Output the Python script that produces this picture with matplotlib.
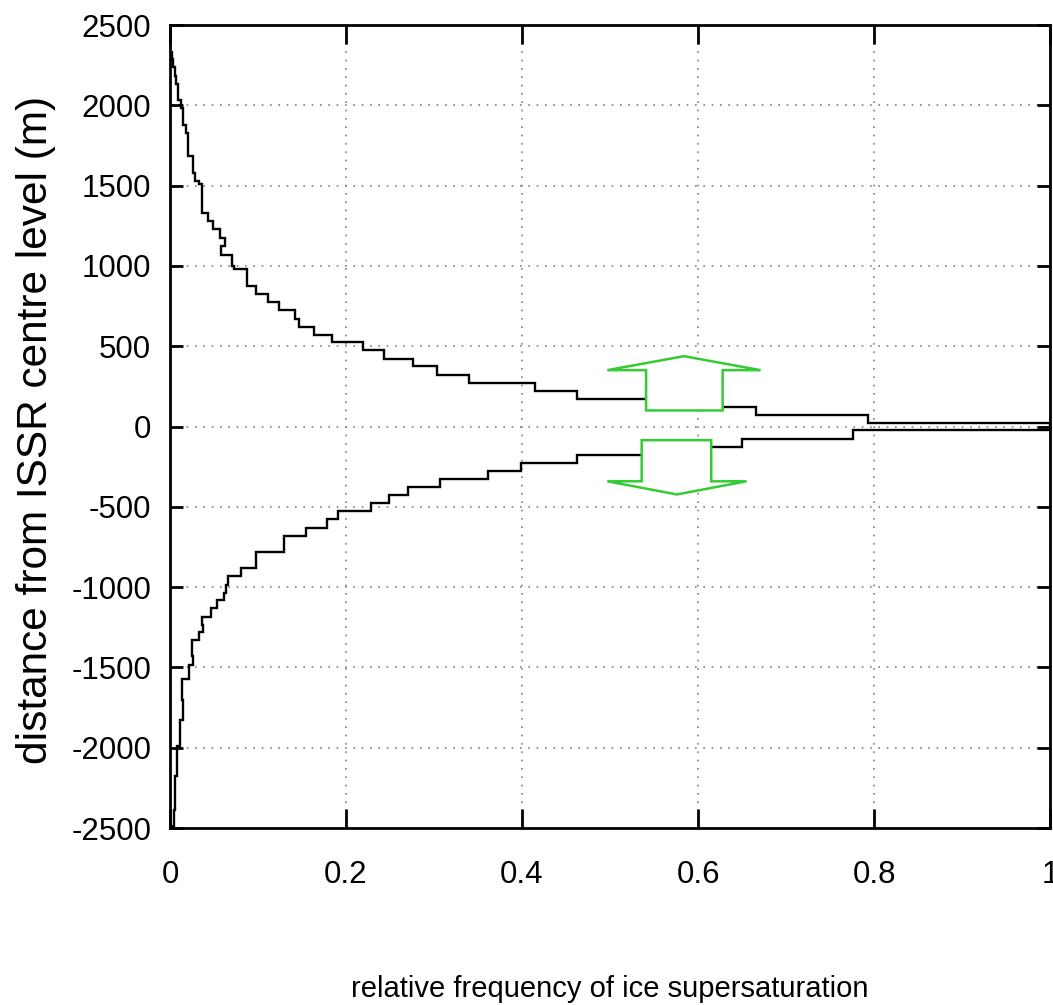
import matplotlib
matplotlib.use("Agg")
import matplotlib.pyplot as plt
from matplotlib.patches import Polygon

plt.rcParams['font.family'] = ['Liberation Sans', 'DejaVu Sans']
plt.rcParams['axes.unicode_minus'] = False

# upper profile: height boundaries (m) and relative frequency between them
upper_edges = [0, 23, 73, 120, 172, 220, 272, 322, 376, 423, 475, 525, 571, 621,
               670, 724, 774, 828, 874, 978, 998, 1071, 1123, 1175, 1231, 1279,
               1331, 1507, 1528, 1580, 1683, 1829, 1880, 1985, 2036, 2130, 2180,
               2240, 2290, 2340]
upper_freq = [1.0, 0.793, 0.666, 0.58, 0.462, 0.415, 0.340, 0.303, 0.276, 0.243,
              0.219, 0.184, 0.164, 0.147, 0.142, 0.124, 0.111, 0.098, 0.087,
              0.073, 0.070, 0.058, 0.062, 0.057, 0.049, 0.0435, 0.036, 0.033,
              0.028, 0.026, 0.021, 0.018, 0.015, 0.013, 0.009, 0.007, 0.006,
              0.004, 0.002]

# lower profile
lower_edges = [-2500, -2489, -2385, -2178, -1991, -1825, -1700, -1575, -1482,
               -1430, -1331, -1281, -1233, -1185, -1133, -1083, -1036, -984,
               -928, -880, -780, -679, -631, -575, -527, -475, -425, -378,
               -326, -278, -226, -179, -127, -75, -23, 0]
lower_freq = [0.002, 0.0045, 0.006, 0.0076, 0.011, 0.015, 0.014, 0.022, 0.026,
              0.025, 0.033, 0.038, 0.036, 0.047, 0.054, 0.061, 0.064, 0.066,
              0.081, 0.098, 0.130, 0.155, 0.179, 0.191, 0.228, 0.249, 0.271,
              0.307, 0.361, 0.399, 0.462, 0.58, 0.650, 0.776, 1.0]

# arrows (outline vertices in data coords)
up_arrow = [(0.541, 100), (0.541, 351), (0.497, 351), (0.584, 438),
            (0.671, 351), (0.628, 351), (0.628, 100)]
down_arrow = [(0.536, -85), (0.536, -341), (0.497, -341), (0.576, -423),
              (0.655, -341), (0.615, -341), (0.615, -85)]

fig = plt.figure(figsize=(10.53, 10.05), dpi=100)
ax = fig.add_axes([0.1614, 0.1761, 0.9972 - 0.1614, 0.9751 - 0.1761])

ax.stairs(upper_freq, upper_edges, orientation='horizontal', baseline=None,
          color='black', lw=1.7, zorder=3)
ax.stairs(lower_freq, lower_edges, orientation='horizontal', baseline=None,
          color='black', lw=1.7, zorder=3)

for pts in (up_arrow, down_arrow):
    ax.add_patch(Polygon(pts, closed=True, facecolor='white', edgecolor='#33cc33',
                         lw=1.8, zorder=4))

ax.set_xlim(0, 1)
ax.set_ylim(-2500, 2500)
ax.set_xticks([0, 0.2, 0.4, 0.6, 0.8, 1])
ax.set_xticklabels(['0', '0.2', '0.4', '0.6', '0.8', '1'])
ax.set_yticks(range(-2500, 2501, 500))
ax.grid(True, color='#808080', linestyle=(0, (1, 4)), lw=1.2)
ax.tick_params(direction='in', width=2, top=True, right=True, labelsize=22.5)
ax.tick_params(axis='x', length=14, pad=23)
ax.tick_params(axis='y', length=9.5, pad=13.5)
for s in ax.spines.values():
    s.set_linewidth(2)

ax.set_ylabel("distance from ISSR centre level (m)", fontsize=30.5, va='center')
ax.yaxis.set_label_coords(-0.152, 0.4956)
ax.set_xlabel("relative frequency of ice supersaturation", fontsize=21, va='center')
ax.xaxis.set_label_coords(0.5, -0.2)

fig.savefig("out.png", dpi=100)
